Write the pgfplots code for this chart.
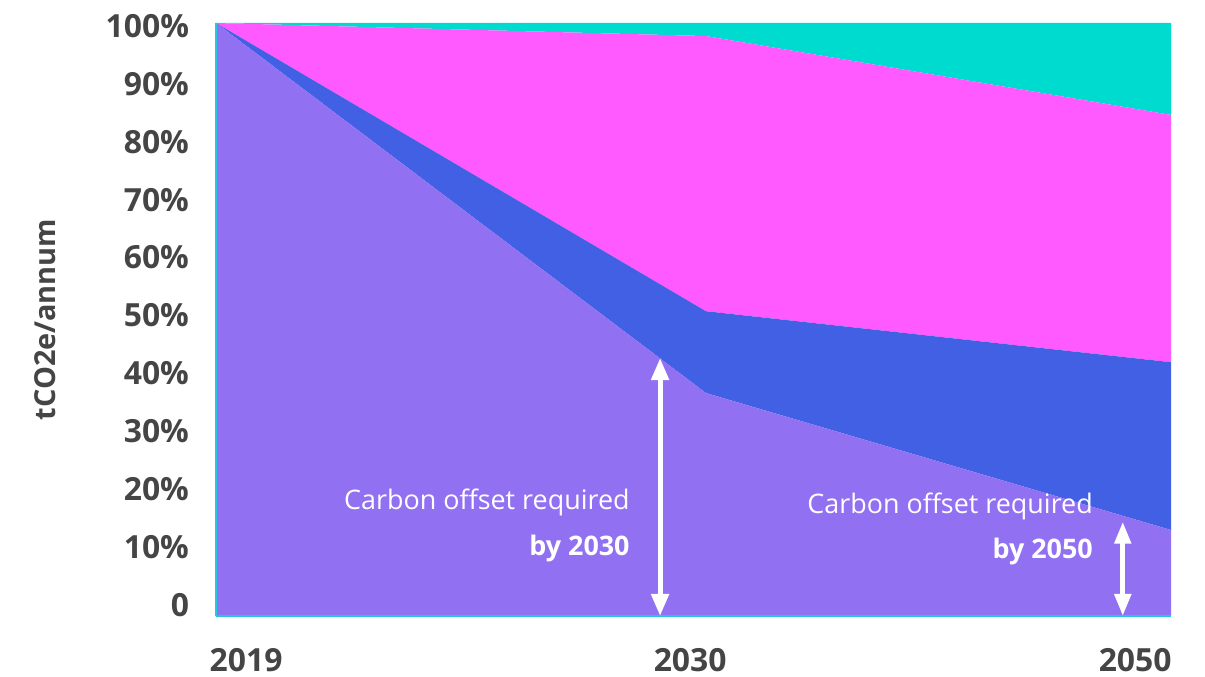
\documentclass[border=0pt]{standalone}
\usepackage{pgfplots}
\pgfplotsset{compat=1.18}
\usepackage{fontspec}
\setmainfont{Open Sans}
\usetikzlibrary{arrows.meta}

\definecolor{cPurple}{HTML}{9171F2}
\definecolor{cBlue}{HTML}{4160E3}
\definecolor{cMagenta}{HTML}{FF5AFF}
\definecolor{cTeal}{HTML}{00DBD0}
\definecolor{cAxis}{HTML}{22C8E0}
\definecolor{cText}{HTML}{454545}

\begin{document}
\begin{tikzpicture}
\begin{axis}[
  at={(0,0)}, anchor=south west,
  scale only axis,
  width=477.5bp, height=296.5bp,
  xmin=0, xmax=2, ymin=0, ymax=100,
  stack plots=y,
  axis on top,
  axis x line=bottom, axis y line=left,
  axis line style={-, draw=cAxis, line width=0.7bp},
  major tick length=0pt,
  xtick={0.063,0.993,1.925},
  xticklabels={2019,2030,2050},
  ytick={1.85,11.62,21.38,31.15,40.91,50.68,60.44,70.21,79.97,89.74,99.5},
  yticklabels={0,10\%,20\%,30\%,40\%,50\%,60\%,70\%,80\%,90\%,100\%},
  tick label style={font=\fontsize{16}{18}\selectfont\bfseries, text=cText},
  xticklabel style={yshift=-12.5bp},
  yticklabel style={xshift=-10bp},
  ylabel={tCO2e/annum},
  every axis y label/.style={at={(axis description cs:-0.179,0.5)}, rotate=90, anchor=center,
    font=\fontsize{14.5}{16}\selectfont\bfseries, text=cText},
]
% stacked shares of emissions, bottom to top
\addplot[draw=none, fill=cPurple] coordinates {(0,100) (1.026,37.6) (2,14.5)} \closedcycle;
\addplot[draw=none, fill=cBlue] coordinates {(0,0) (1.026,13.8) (2,28.3)} \closedcycle;
\addplot[draw=none, fill=cMagenta] coordinates {(0,0) (1.026,46.4) (2,41.7)} \closedcycle;
\addplot[draw=none, fill=cTeal] coordinates {(0,0) (1.026,2.2) (2,15.5)} \closedcycle;

% anchor points for the offset annotations
\coordinate (a1b) at (axis cs:0.930,0);
\coordinate (a1t) at (axis cs:0.930,43.5);
\coordinate (a2b) at (axis cs:1.899,0);
\coordinate (a2t) at (axis cs:1.899,15.9);
\coordinate (t1a) at (axis cs:0.867,19.2);
\coordinate (t1b) at (axis cs:0.867,11.3);
\coordinate (t2a) at (axis cs:1.837,18.4);
\coordinate (t2b) at (axis cs:1.837,10.9);
\end{axis}

\draw[white, line width=2.5bp, {Triangle[width=8.5bp,length=11bp]}-{Triangle[width=8.5bp,length=11bp]}]
  (a1b) -- (a1t);
\draw[white, line width=2.5bp, {Triangle[width=8bp,length=11bp]}-{Triangle[width=8bp,length=11bp]}]
  (a2b) -- (a2t);
\node[anchor=east, text=white, font=\fontsize{13.5}{15}\selectfont, inner sep=0pt] at (t1a) {Carbon offset required};
\node[anchor=east, text=white, font=\fontsize{13.5}{15}\selectfont\bfseries, inner sep=0pt] at (t1b) {by 2030};
\node[anchor=east, text=white, font=\fontsize{13.5}{15}\selectfont, inner sep=0pt] at (t2a) {Carbon offset required};
\node[anchor=east, text=white, font=\fontsize{13.5}{15}\selectfont\bfseries, inner sep=0pt] at (t2b) {by 2050};

\pgfresetboundingbox
\path[use as bounding box] (-108bp,-30.5bp) rectangle (494.5bp,308bp);
\end{tikzpicture}
\end{document}
